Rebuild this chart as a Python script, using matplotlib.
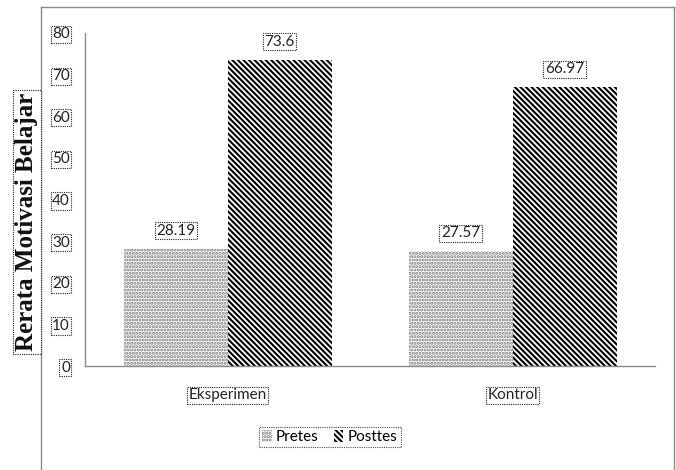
import numpy as np
import matplotlib
matplotlib.use('Agg')
import matplotlib.pyplot as plt
from matplotlib.lines import Line2D

categories = ['Eksperimen', 'Kontrol']
series = ['Pretes', 'Posttes']
pretes = [28.19, 27.57]
posttes = [73.6, 66.97]
yticks = [0, 10, 20, 30, 40, 50, 60, 70, 80]

NARROW = ['Lato', 'DejaVu Sans']
DOTBOX = dict(boxstyle='square,pad=0.1', facecolor='white',
              edgecolor='#222222', linestyle=(0, (1, 1)), linewidth=0.8)

plt.rcParams['hatch.linewidth'] = 1.5

fig = plt.figure(figsize=(6.76, 4.70), dpi=100)
ax = fig.add_axes([0.126, 0.221, 0.843, 0.709])

# outer frame, open at the bottom
frame_color = '#8a8a8a'
top = 1 - 7 / 470
for xs, ys in (([41 / 676, 41 / 676], [0, top]),
               ([41 / 676, 674 / 676], [top, top]),
               ([674 / 676, 674 / 676], [0, top])):
    fig.add_artist(Line2D(xs, ys, transform=fig.transFigure,
                          color=frame_color, lw=1))

x = np.arange(len(categories))
w = 0.365
b1 = ax.bar(x - w / 2, pretes, w, color='white', edgecolor='#7a7a7a',
            hatch='.....', linewidth=0, label=series[0])
b2 = ax.bar(x + w / 2, posttes, w, color='white', edgecolor='black',
            hatch='\\' * 6, linewidth=0, label=series[1])

for bars, vals in ((b1, pretes), (b2, posttes)):
    for r, v in zip(bars, vals):
        ax.text(r.get_x() + r.get_width() / 2, v + 2.6, f'{v:g}',
                ha='center', va='bottom', fontsize=11, family=NARROW,
                color='#222222', bbox=DOTBOX)

ax.set_xlim(-0.5, 1.5)
ax.set_ylim(0, 80)
ax.set_yticks(yticks)
ax.set_yticklabels([str(t) for t in yticks], family=NARROW, fontsize=11,
                   color='#222222')
ax.set_xticks(x)
ax.set_xticklabels(categories, family=NARROW, fontsize=11, color='#222222')
for lbl in ax.get_yticklabels() + ax.get_xticklabels():
    lbl.set_bbox(DOTBOX)
ax.tick_params(axis='both', length=0)
ax.tick_params(axis='y', pad=11)
ax.tick_params(axis='x', pad=16)

for s in ('top', 'right'):
    ax.spines[s].set_visible(False)
for s in ('left', 'bottom'):
    ax.spines[s].set_color('#8a8a8a')
    ax.spines[s].set_linewidth(1)

fig.text(27 / 676, 1 - 222 / 470, 'Rerata Motivasi Belajar', rotation=90,
         ha='center', va='center', fontsize=18, fontweight='bold',
         family='Liberation Serif', color='#111111', bbox=DOTBOX)

leg = fig.legend(handles=[b1, b2], labels=series, loc='center',
                 bbox_to_anchor=(330 / 676, 1 - 437 / 470), ncol=2,
                 prop={'family': NARROW, 'size': 11}, handlelength=0.6,
                 handleheight=0.8, handletextpad=0.3, columnspacing=1.0,
                 frameon=True, fancybox=False, borderpad=0.2)
leg.get_frame().set_linestyle((0, (1, 1)))
leg.get_frame().set_edgecolor('#222222')
leg.get_frame().set_linewidth(0.8)

fig.savefig('out.png', dpi=100)
